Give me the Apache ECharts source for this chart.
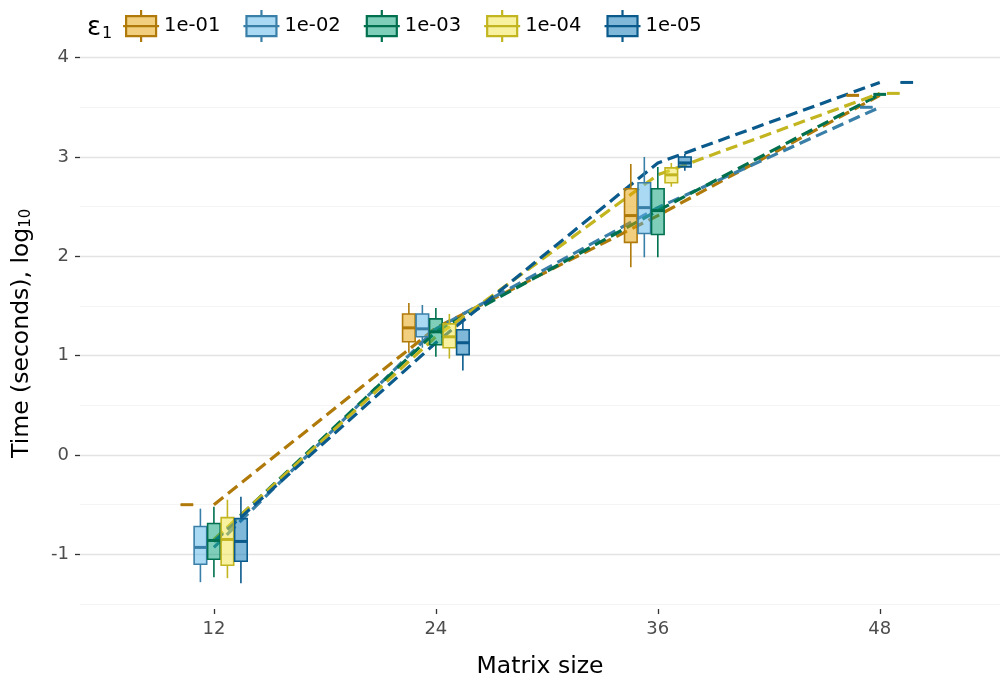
<!DOCTYPE html>
<html>
<head>
<meta charset="utf-8">
<script src="https://cdn.jsdelivr.net/npm/echarts@6/dist/echarts.min.js"></script>
<style>
html,body{margin:0;padding:0;background:#fff;}
#chart{width:1003px;height:673px;}
</style>
</head>
<body>
<div id="chart"></div>
<script>
// ---- data (log10 seconds) ----
const sizes = [12, 24, 36, 48];
const epsLabels = ['1e-01', '1e-02', '1e-03', '1e-04', '1e-05'];
const yTicks = [-1, 0, 1, 2, 3, 4];
const yMinorTicks = [-1.5, -0.5, 0.5, 1.5, 2.5, 3.5];
// each row: [lowWhisker, q1, median, q3, highWhisker] for sizes 12, 24, 36, 48
const box_1e01 = [[-0.50, -0.50, -0.50, -0.50, -0.50], [1.03, 1.14, 1.28, 1.42, 1.53], [1.89, 2.14, 2.41, 2.68, 2.93], [3.62, 3.62, 3.62, 3.62, 3.62]];
const box_1e02 = [[-1.28, -1.10, -0.93, -0.72, -0.54], [1.08, 1.19, 1.27, 1.42, 1.51], [1.99, 2.23, 2.49, 2.74, 3.00], [3.50, 3.50, 3.50, 3.50, 3.50]];
const box_1e03 = [[-1.23, -1.05, -0.86, -0.69, -0.52], [0.99, 1.11, 1.24, 1.37, 1.48], [1.99, 2.22, 2.46, 2.68, 2.90], [3.63, 3.63, 3.63, 3.63, 3.63]];
const box_1e04 = [[-1.24, -1.11, -0.85, -0.63, -0.45], [0.97, 1.08, 1.19, 1.32, 1.42], [2.70, 2.74, 2.82, 2.89, 2.94], [3.64, 3.64, 3.64, 3.64, 3.64]];
const box_1e05 = [[-1.29, -1.07, -0.87, -0.64, -0.42], [0.85, 1.01, 1.13, 1.26, 1.36], [2.86, 2.90, 2.94, 3.00, 3.03], [3.75, 3.75, 3.75, 3.75, 3.75]];
const boxData = [box_1e01, box_1e02, box_1e03, box_1e04, box_1e05];

// ---- styles ----
const fillColors = ['rgba(230,159,0,0.5)', 'rgba(86,180,233,0.5)', 'rgba(0,158,115,0.5)', 'rgba(240,228,66,0.5)', 'rgba(0,114,178,0.5)'];
const legendFill = ['#F2CF7F', '#AAD9F4', '#7FCEB9', '#F7F1A0', '#7FB8D8'];
const edgeColors = ['#B07A0A', '#3A7FA8', '#00704F', '#C2B520', '#0A5A8C'];
const DODGE = 0.73;   // x units between dodged boxes
const BOX_W = 0.68;   // box width in x units
const FONT = 'DejaVu Sans';

const chart = echarts.init(document.getElementById('chart'), null, {renderer: 'canvas'});

function makeRender(gi) {
  return function (params, api) {
    const x = api.value(0);
    const lo = api.value(1), q1 = api.value(2), med = api.value(3), q3 = api.value(4), hi = api.value(5);
    const pHi = api.coord([x, hi]), pQ3 = api.coord([x, q3]), pMed = api.coord([x, med]);
    const pQ1 = api.coord([x, q1]), pLo = api.coord([x, lo]);
    const xl = api.coord([x - BOX_W / 2, med])[0];
    const xr = api.coord([x + BOX_W / 2, med])[0];
    const edge = edgeColors[gi];
    return {
      type: 'group',
      children: [
        {type: 'line', shape: {x1: pHi[0], y1: pHi[1], x2: pQ3[0], y2: pQ3[1]}, style: {stroke: edge, lineWidth: 1.6}},
        {type: 'line', shape: {x1: pQ1[0], y1: pQ1[1], x2: pLo[0], y2: pLo[1]}, style: {stroke: edge, lineWidth: 1.6}},
        {type: 'rect', shape: {x: xl, y: pQ3[1], width: xr - xl, height: pQ1[1] - pQ3[1]}, style: {fill: fillColors[gi], stroke: edge, lineWidth: 1.6}},
        {type: 'line', shape: {x1: xl, y1: pMed[1], x2: xr, y2: pMed[1]}, style: {stroke: edge, lineWidth: 3}}
      ]
    };
  };
}

const series = [];
epsLabels.forEach((name, gi) => {
  series.push({
    name: name,
    type: 'custom',
    z: 3,
    renderItem: makeRender(gi),
    itemStyle: {color: legendFill[gi], borderColor: edgeColors[gi]},
    encode: {x: 0, y: [1, 2, 3, 4, 5]},
    data: sizes.map((s, j) => [s + (gi - 2) * DODGE].concat(boxData[gi][j]))
  });
});
epsLabels.forEach((name, gi) => {
  series.push({
    name: name,
    type: 'line',
    z: 2,
    symbol: 'none',
    lineStyle: {color: edgeColors[gi], width: 3.2, type: [12, 6]},
    itemStyle: {color: edgeColors[gi]},
    data: sizes.map((s, j) => [s, boxData[gi][j][2]])
  });
});

const iconPath = 'path://M3,6L33,6L33,26L3,26Z M0,16L36,16 M18,0L18,6 M18,26L18,32';

const option = {
  backgroundColor: '#ffffff',
  animation: false,
  textStyle: {fontFamily: FONT},
  title: {
    text: '{e|ε}{s|1}',
    left: 82, top: 9,
    textStyle: {fontWeight: 'normal', rich: {
      e: {fontSize: 26, fontFamily: FONT, color: '#000', fontWeight: 'normal'},
      s: {fontSize: 16, fontFamily: FONT, color: '#000', fontWeight: 'normal', padding: [12, 0, 0, 1]}
    }}
  },
  legend: {
    left: 122, top: 9, padding: 0,
    itemWidth: 36, itemHeight: 32, itemGap: 22,
    textStyle: {fontSize: 19.5, color: '#000', fontFamily: FONT},
    data: epsLabels.map((n, gi) => ({
      name: n, icon: iconPath,
      itemStyle: {color: legendFill[gi], borderColor: edgeColors[gi], borderWidth: 2.2}
    }))
  },
  grid: {left: 80, right: 3, top: 57.6, bottom: 64, containLabel: false, outerBoundsMode: 'none'},
  xAxis: {
    type: 'value', min: 4.76, max: 54.5,
    name: 'Matrix size', nameLocation: 'middle', nameGap: 46,
    nameTextStyle: {fontSize: 23.5, color: '#000', fontFamily: FONT},
    axisLine: {show: false, onZero: false},
    axisTick: {show: true, customValues: sizes, length: 5, lineStyle: {color: '#333', width: 1.3}},
    axisLabel: {customValues: sizes, fontSize: 18, color: '#4D4D4D', margin: 11, fontFamily: FONT},
    splitLine: {show: false}
  },
  yAxis: [
    {
      type: 'value', min: -1.55, max: 4.0,
      name: 'Time (seconds), log{sub|10}', nameLocation: 'middle', nameGap: 46, nameRotate: 90,
      nameTextStyle: {fontSize: 23.5, color: '#000', fontFamily: FONT, rich: {sub: {fontSize: 15, fontFamily: FONT, color: '#000', padding: [10, 0, 0, 0]}}},
      axisLine: {show: false, onZero: false},
      axisTick: {show: true, customValues: yTicks, length: 5, lineStyle: {color: '#333', width: 1.3}},
      axisLabel: {customValues: yTicks, fontSize: 18, color: '#4D4D4D', margin: 11, fontFamily: FONT},
      splitLine: {show: true, lineStyle: {color: '#E3E3E3', width: 1.4}}
    },
    {
      type: 'value', min: -1.55, max: 4.0,
      axisLine: {show: false, onZero: false},
      axisTick: {show: false, customValues: yMinorTicks},
      axisLabel: {show: false, customValues: yMinorTicks},
      splitLine: {show: true, lineStyle: {color: '#F4F4F4', width: 1}}
    }
  ],
  series: series
};
chart.setOption(option);
</script>
</body>
</html>
